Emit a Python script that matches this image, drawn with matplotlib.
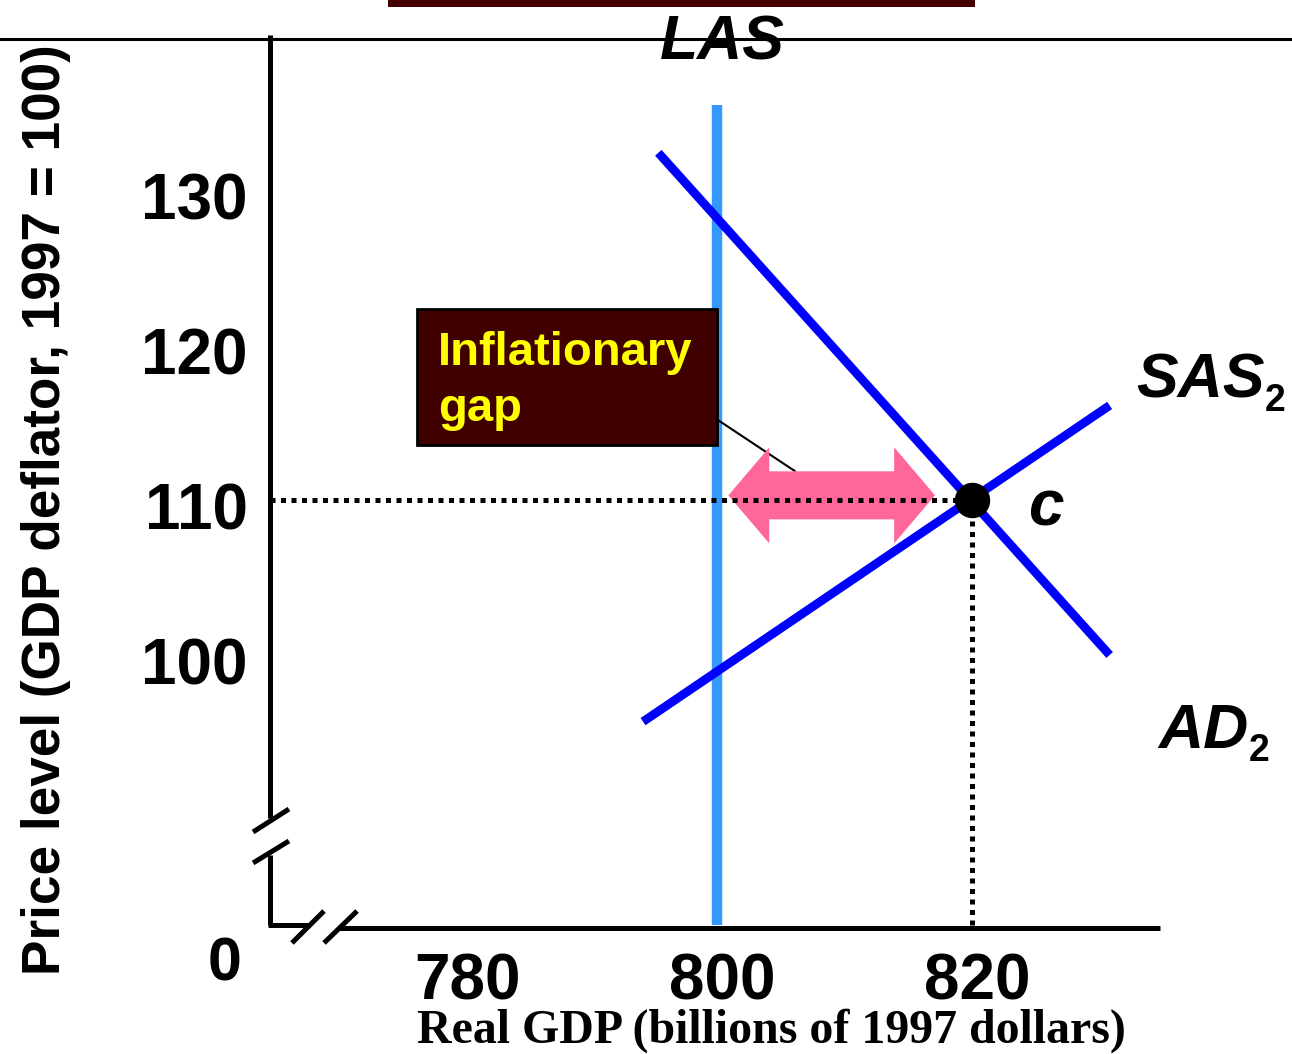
import matplotlib
matplotlib.use("Agg")
import matplotlib.pyplot as plt
from matplotlib.lines import Line2D
from matplotlib.patches import Rectangle, Polygon
from matplotlib.transforms import ScaledTranslation

plt.rcParams['font.family'] = ['Liberation Sans', 'DejaVu Sans']

# ---- data -------------------------------------------------------------
x_ticks = [780, 800, 820]
y_ticks = [100, 110, 120, 130]

las_gdp = 800            # potential GDP (long-run aggregate supply)
las_top = 135.5

ad_gdp = [795.4, 830.8]  # aggregate demand AD2
ad_price = [132.4, 100.0]

sas_gdp = [794.2, 830.8]  # short-run aggregate supply SAS2
sas_price = [95.7, 116.1]

eq_gdp = 820             # equilibrium point c
eq_price = 110

gap_tips = [800.9, 817.1]   # inflationary-gap arrow ends
gap_level = 110.3

# ---- colours ----------------------------------------------------------
BLUE = '#0000FF'
LAS_BLUE = '#3399FF'
PINK = '#FF6699'
MAROON = '#400000'

fig = plt.figure(figsize=(12.92, 10.54), dpi=100)
W, H = 1292, 1054
ax = fig.add_axes([270 / W, 129 / H, 890 / W, 890 / H])
ax.set_xlim(764.94, 834.75)
ax.set_ylim(82.58, 140.0)
for s in ax.spines.values():
    s.set_visible(False)
ax.set_xticks([])
ax.set_yticks([])

# tick labels
tick_kw = dict(fontsize=46, fontweight='bold')
for v in x_ticks:
    ax.annotate(str(v), xy=(v, 0), xycoords=('data', 'axes fraction'),
                xytext=(4, -20), textcoords='offset points',
                ha='center', va='top', **tick_kw)
for v in y_ticks:
    ax.annotate(str(v), xy=(0, v), xycoords=('axes fraction', 'data'),
                xytext=(-16, -4), textcoords='offset points',
                ha='right', va='center_baseline', **tick_kw)

# broken axes
axis_kw = dict(color='black', lw=3.6, transform=ax.transAxes, clip_on=False,
               solid_capstyle='butt')
ax.plot([0, 0], [1.0, 0.120], **axis_kw)
ax.plot([0, 0], [0.0787, 0], **axis_kw)
ax.plot([-0.002, 0.045], [0, 0], **axis_kw)
ax.plot([0.078, 1.0], [-0.0034, -0.0034], **axis_kw)
# break marks
ax.plot([-0.019, 0.0213], [0.1045, 0.1303], **axis_kw)
ax.plot([-0.019, 0.0213], [0.0697, 0.0944], **axis_kw)
ax.plot([0.0247, 0.0607], [-0.0202, 0.0157], **axis_kw)
ax.plot([0.0607, 0.0978], [-0.0202, 0.0157], **axis_kw)

ax.text(-0.0506, -0.045, '0', transform=ax.transAxes, ha='center', va='center',
        fontsize=44, fontweight='bold')

# curves
ax.plot([las_gdp, las_gdp], [las_top, ax.get_ylim()[0]], color=LAS_BLUE, lw=7.5,
        solid_capstyle='butt', clip_on=False)
ax.plot(ad_gdp, ad_price, color=BLUE, lw=6.3, solid_capstyle='butt')
ax.plot(sas_gdp, sas_price, color=BLUE, lw=6.3, solid_capstyle='butt')

# inflationary gap double arrow
shaft_h, head_h, head_len = 1.55, 3.1, 3.2
x0, x1 = gap_tips
yc = gap_level
arrow_pts = [
    (x0, yc),
    (x0 + head_len, yc + head_h),
    (x0 + head_len, yc + shaft_h),
    (x1 - head_len, yc + shaft_h),
    (x1 - head_len, yc + head_h),
    (x1, yc),
    (x1 - head_len, yc - head_h),
    (x1 - head_len, yc - shaft_h),
    (x0 + head_len, yc - shaft_h),
    (x0 + head_len, yc - head_h),
]
ax.add_patch(Polygon(arrow_pts, closed=True, facecolor=PINK, edgecolor='none', zorder=3))

# dotted guides to the equilibrium
dot_kw = dict(color='black', lw=3.6, linestyle=(0, (1, 1.1)), dash_capstyle='butt',
              zorder=4, clip_on=False)
ax.plot([ax.get_xlim()[0], eq_gdp], [eq_price, eq_price], **dot_kw)
ax.plot([eq_gdp, eq_gdp], [eq_price, ax.get_ylim()[0]], **dot_kw)

ax.plot([eq_gdp], [eq_price], 'o', color='black', markersize=24.5, zorder=5)

# callout box
box_l, box_r, box_b, box_t = 776.47, 800.0, 113.55, 122.32
ax.plot([box_r, 806.1], [115.2, 111.87], color='black', lw=1.5, zorder=2)
ax.add_patch(Rectangle((box_l, box_b), box_r - box_l, box_t - box_b,
                       facecolor=MAROON, edgecolor='black', lw=2, zorder=6))
ax.text(778.1, 118.7, 'Inflationary', color='#FFFF00', fontsize=34, fontweight='bold',
        ha='left', va='baseline', zorder=7)
ax.text(778.1, 115.1, 'gap', color='#FFFF00', fontsize=34, fontweight='bold',
        ha='left', va='baseline', zorder=7)

# curve labels
lab_kw = dict(fontsize=45, fontweight='bold', fontstyle='italic', ha='left', va='baseline')
t_sas = ax.text(832.9, 116.6, 'SAS', **lab_kw)
ax.annotate('2', xy=(1, 0), xycoords=t_sas, fontsize=27, fontweight='bold',
            ha='left', va='baseline')
t_ad = ax.text(834.6, 94.0, 'AD', **lab_kw)
ax.annotate('2', xy=(1, 0), xycoords=t_ad, fontsize=27, fontweight='bold',
            ha='left', va='baseline')
ax.text(824.4, 109.9, 'c', fontsize=46, fontweight='bold', fontstyle='italic',
        ha='left', va='center_baseline')
ax.text(800.4, 138.4, 'LAS', fontsize=45, fontweight='bold', fontstyle='italic',
        ha='center', va='baseline', zorder=8)

# header rule and bar
fig.add_artist(Line2D([0, 1], [1 - 39 / H, 1 - 39 / H], color='black', lw=2.2))
fig.add_artist(Rectangle((388 / W, 1 - 7 / H), (975 - 388) / W, 7 / H,
                         facecolor='#440000', edgecolor='none'))

# axis titles
ylab = fig.text(46 / W, 1 - 510 / H, 'Price level (GDP deflator, 1997 = 100)',
                rotation=90, ha='center', va='center', fontsize=30, fontweight='bold')
xlab = fig.text(771 / W, 1 - 1031 / H, 'Real GDP (billions of 1997 dollars)',
                ha='center', va='center', fontsize=30, fontweight='bold',
                family=['Liberation Serif', 'DejaVu Serif'])

# fit axis titles to their span
fig.canvas.draw()
r = fig.canvas.get_renderer()
ext = ylab.get_window_extent(r)
ylab.set_fontsize(30 * 930 / ext.height)
ext = xlab.get_window_extent(r)
xlab.set_fontsize(30 * 708 / ext.width)

fig.savefig('out.png', dpi=100)
